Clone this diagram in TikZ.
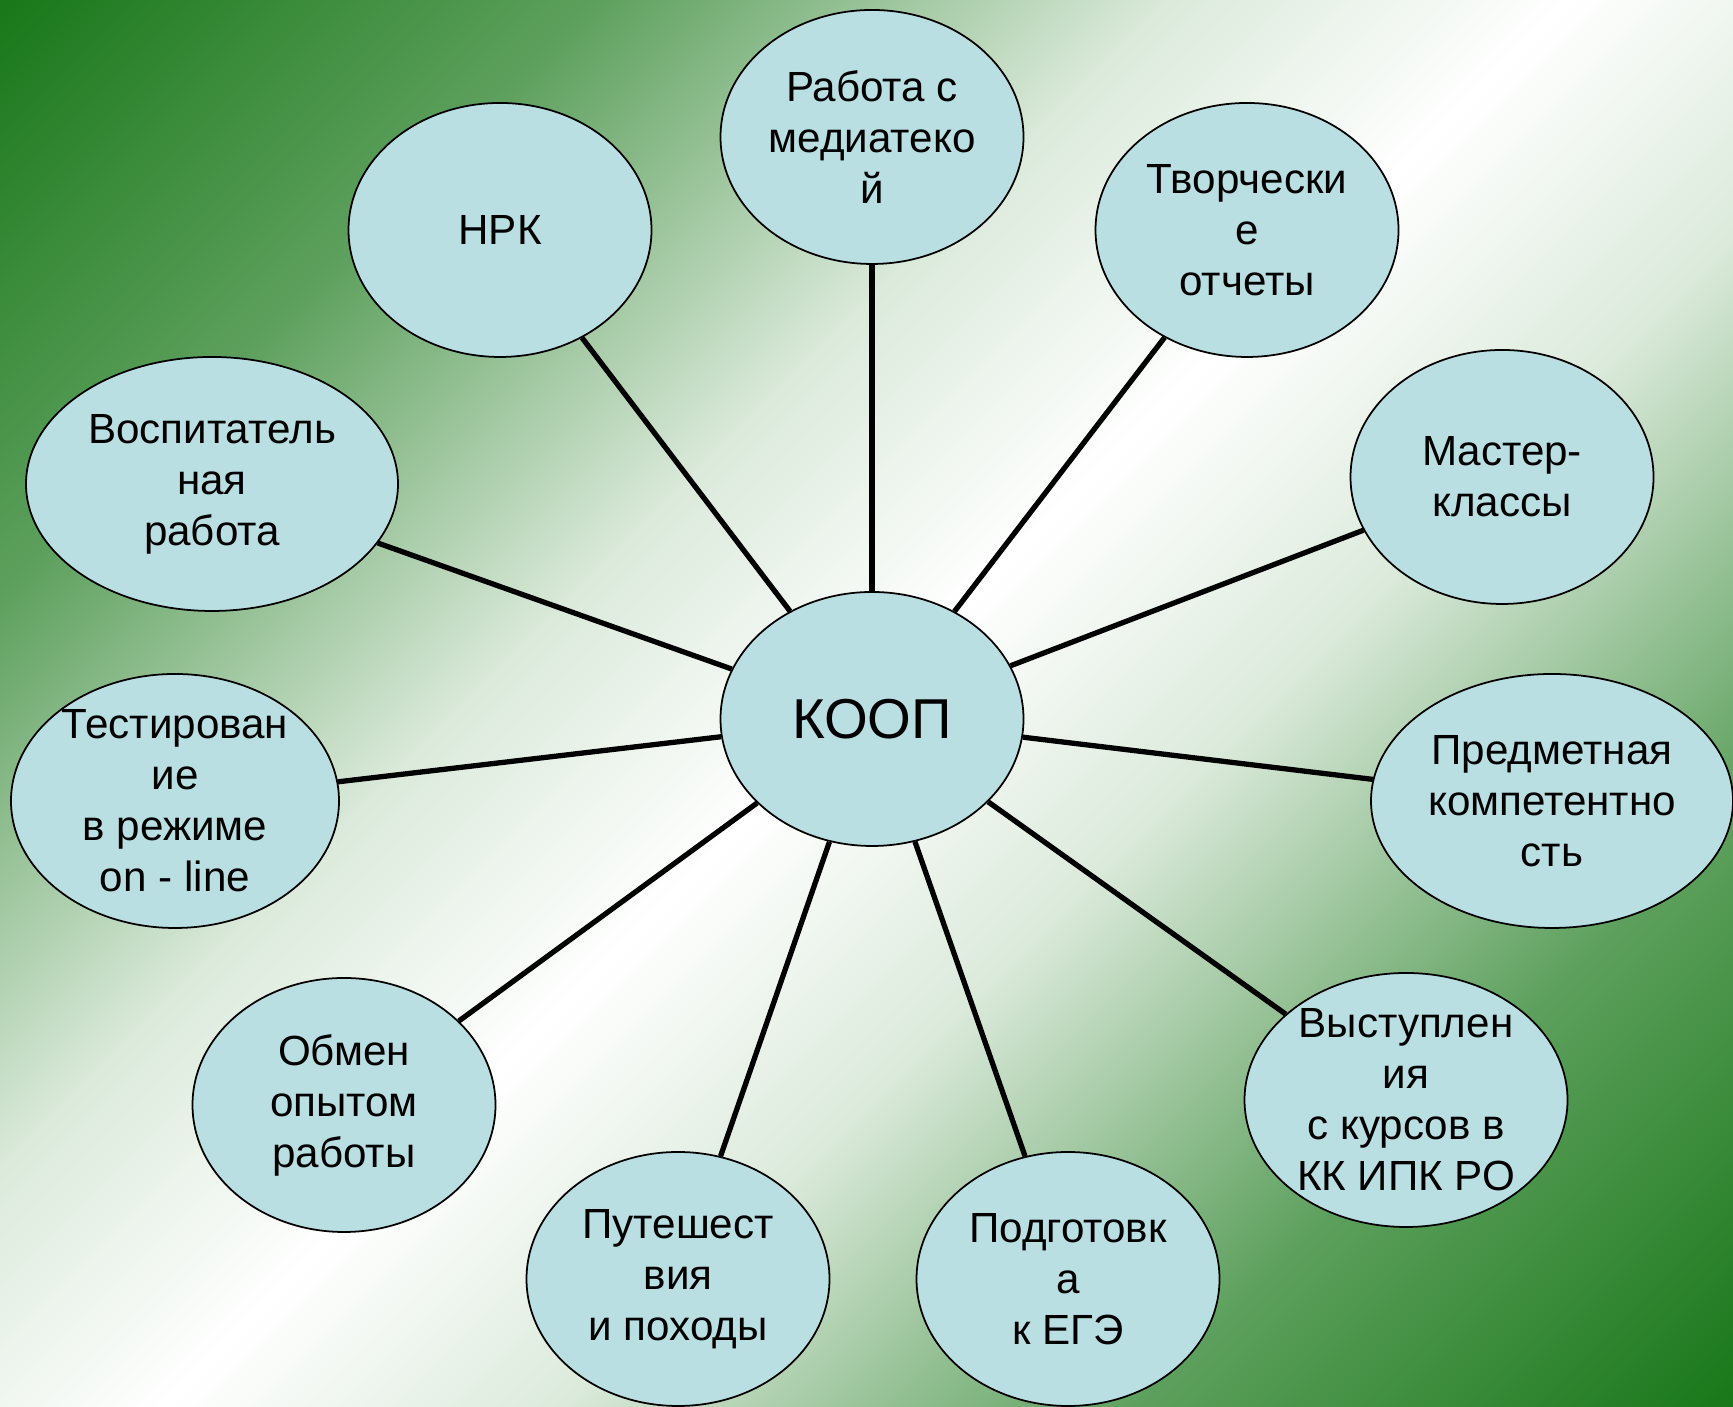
\documentclass[tikz,border=0pt]{standalone}
\usepackage{fontspec}
\setmainfont{Liberation Sans}
\usetikzlibrary{shapes.geometric}
\definecolor{bggreen}{HTML}{117311}
\definecolor{bubblefill}{HTML}{BADFE3}
\colorlet{bgmid}{bggreen!68!white}
\colorlet{bglight}{bggreen!15!white}
\pgfdeclareverticalshading{bgband}{100bp}{color(0bp)=(bggreen); color(13bp)=(bggreen);
  color(28bp)=(bgmid); color(41bp)=(bglight); color(50bp)=(white); color(59bp)=(bglight);
  color(72bp)=(bgmid); color(87bp)=(bggreen); color(100bp)=(bggreen)}
\tikzset{
  bubble/.style={ellipse, draw, fill=bubblefill, line width=0.5pt, inner sep=0pt,
    minimum width=3.03cm, minimum height=2.54cm},
  txt/.style={align=center, font=\fontsize{12}{14.5}\selectfont},
  spoke/.style={line width=1.5pt}
}
\begin{document}
\begin{tikzpicture}
\useasboundingbox (0,0) rectangle (17.33,14.07);
\clip (0,0) rectangle (17.33,14.07);
\shade[shading=bgband, shading angle=45] (0,0) rectangle (17.33,14.07);

\node[bubble, font=\fontsize{16}{19}\selectfont] (koop) at (8.72,6.88) {КООП};
\node[bubble, label={[txt]center:НРК}] (nrk) at (5.00,11.77) {};
\node[bubble, label={[txt]center:Работа с\\медиатеко\\й}] (media) at (8.72,12.70) {};
\node[bubble, label={[txt]center:Творчески\\е\\отчеты}] (tvor) at (12.47,11.77) {};
\node[bubble, label={[txt]center:Мастер-\\классы}] (master) at (15.02,9.30) {};
\node[bubble, minimum width=3.62cm, label={[txt]center:Предметная\\компетентно\\сть}] (predm) at (15.52,6.06) {};
\node[bubble, minimum width=3.23cm, label={[txt]center:Выступлен\\ия\\с курсов в\\КК ИПК РО}] (vyst) at (14.06,3.07) {};
\node[bubble, label={[txt]center:Подготовк\\а\\к ЕГЭ}] (egje) at (10.68,1.28) {};
\node[bubble, label={[txt]center:Путешест\\вия\\и походы}] (put) at (6.78,1.28) {};
\node[bubble, label={[txt]center:Обмен\\опытом\\работы}] (obmen) at (3.44,3.02) {};
\node[bubble, minimum width=3.28cm, label={[txt]center:Тестирован\\ие\\в режиме\\on - line}] (test) at (1.75,6.06) {};
\node[bubble, minimum width=3.72cm, label={[txt]center:Воспитатель\\ная\\работа}] (vosp) at (2.12,9.23) {};

\draw[spoke] (koop) -- (nrk);
\draw[spoke] (koop) -- (media);
\draw[spoke] (koop) -- (tvor);
\draw[spoke] (koop) -- (master);
\draw[spoke] (koop) -- (predm);
\draw[spoke] (koop) -- (vyst);
\draw[spoke] (koop) -- (egje);
\draw[spoke] (koop) -- (put);
\draw[spoke] (koop) -- (obmen);
\draw[spoke] (koop) -- (test);
\draw[spoke] (koop) -- (vosp);
\end{tikzpicture}
\end{document}
